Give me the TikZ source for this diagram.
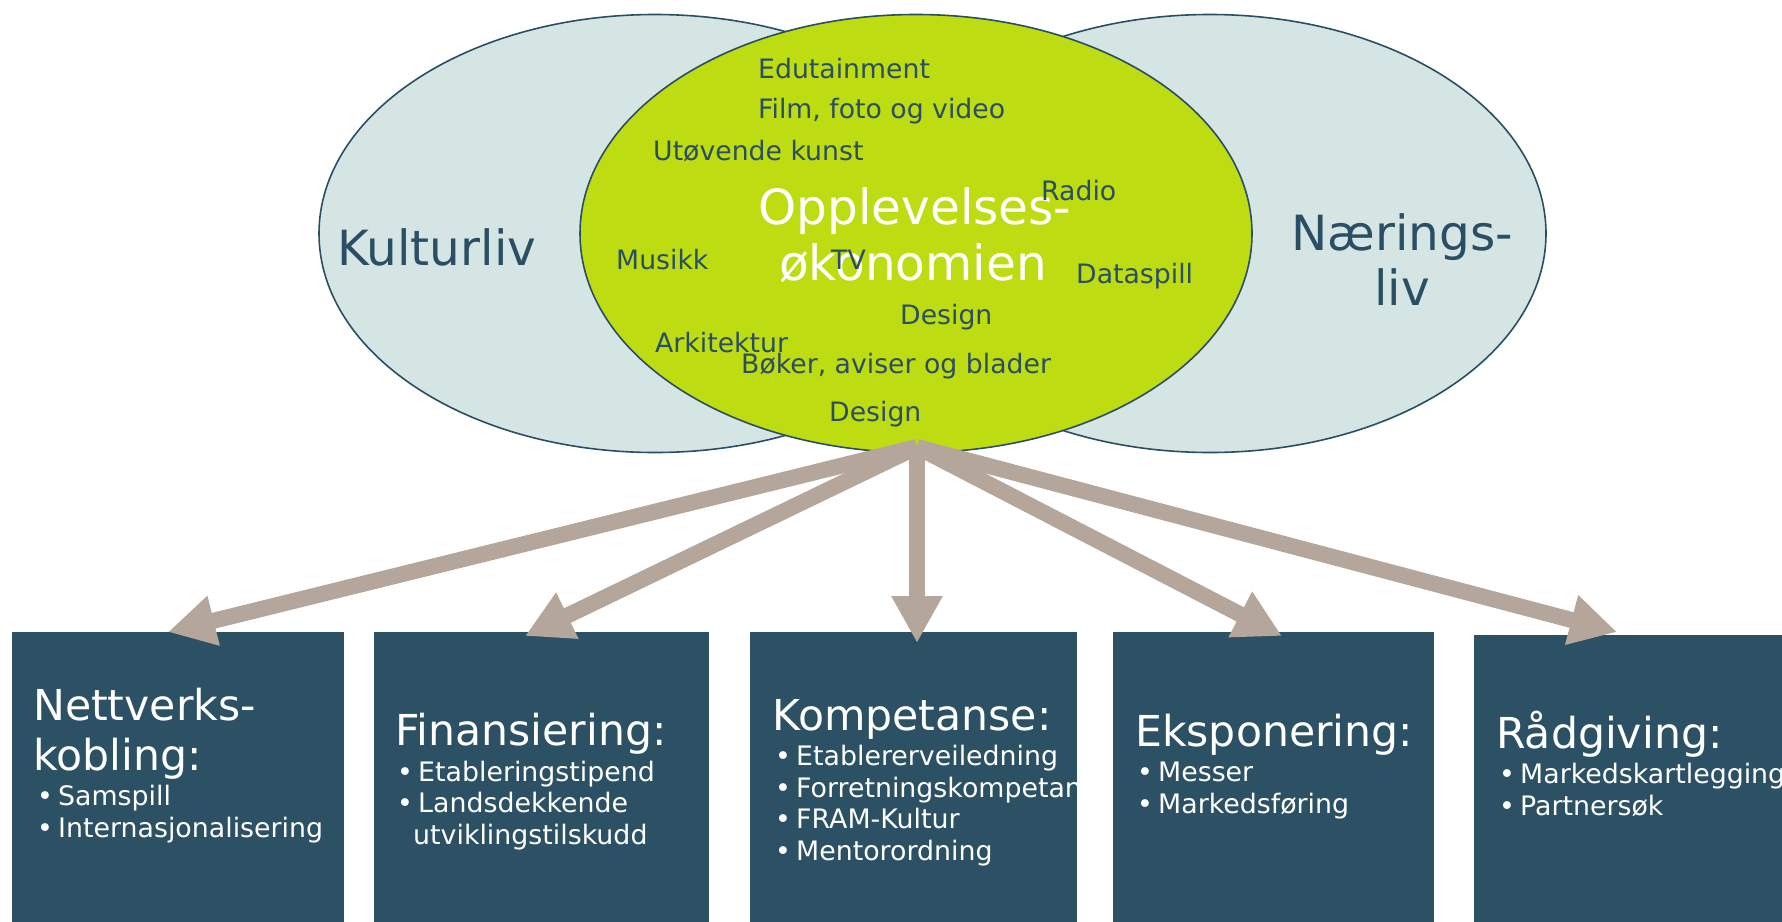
\documentclass[tikz,border=0pt]{standalone}
\usepackage{fontspec}
\setmainfont{DejaVu Sans}
\usetikzlibrary{shapes.geometric,arrows.meta}
\definecolor{boxblue}{HTML}{2C5165}
\definecolor{paleblue}{HTML}{D4E5E4}
\definecolor{lime}{HTML}{BEDC12}
\definecolor{tanarrow}{HTML}{B4A69A}
\definecolor{outl}{HTML}{2A4E63}
\newcommand{\bul}[1]{\makebox[21pt][l]{•}#1}
\begin{document}
\begin{tikzpicture}[x=1pt,y=-1pt,
  ell/.style={ellipse,draw=outl,line width=1.6pt,minimum width=672pt,minimum height=438pt,inner sep=0pt},
  lbl/.style={anchor=base west,inner sep=0pt,text=outl,font=\fontsize{26.7}{32}\selectfont},
  big/.style={anchor=base,inner sep=0pt,font=\fontsize{48.5}{55}\selectfont},
  box/.style={fill=boxblue,anchor=north west,inner sep=0pt,minimum height=300pt},
  ttl/.style={anchor=base west,inner sep=0pt,text=white,font=\fontsize{42.6}{48}\selectfont},
  itm/.style={anchor=base west,inner sep=0pt,text=white,font=\fontsize{26.8}{32}\selectfont},
  conn/.style={draw=tanarrow,line width=16pt,-{Triangle[length=47pt,width=48pt]}}
]
\useasboundingbox (0,0) rectangle (1782,921);
% ellipses
\node[ell,fill=paleblue] (kult) at (655,233.5) {};
\node[ell,fill=paleblue] (naer) at (1210,233.5) {};
\node[ell,fill=lime] (opp) at (916,233.5) {};
% ellipse texts
\node[big,anchor=base west,text=outl] (kulttxt) at (337,265) {Kulturliv};
\node[big,text=outl] (naer1) at (1402,250) {Nærings-};
\node[big,text=outl] (naer2) at (1402,305) {liv};
\node[big,text=white] (opp1) at (915,224) {Opplevelses-};
\node[big,text=white] (opp2) at (913,280) {økonomien};
\node[lbl] (l1) at (758,78) {Edutainment};
\node[lbl] (l2) at (758,118) {Film, foto og video};
\node[lbl] (l3) at (653,160) {Utøvende kunst};
\node[lbl] (l4) at (1041,200) {Radio};
\node[lbl] (l5) at (616,269) {Musikk};
\node[lbl] (l6) at (831,269) {TV};
\node[lbl] (l7) at (1076,283) {Dataspill};
\node[lbl] (l8) at (900,324) {Design};
\node[lbl] (l9) at (655,352) {Arkitektur};
\node[lbl] (l10) at (741,373) {Bøker, aviser og blader};
\node[lbl] (l11) at (829,421) {Design};
% boxes
\node[box,minimum width=332pt] (b1) at (12,632) {};
\node[box,minimum width=335pt] (b2) at (374,632) {};
\node[box,minimum width=327pt] (b3) at (750,632) {};
\node[box,minimum width=321pt] (b4) at (1113,632) {};
\node[box,minimum width=330pt] (b5) at (1474,635) {};
% box 1
\node[ttl] (t1a) at (33,720) {Nettverks-};
\node[ttl] (t1b) at (33,770) {kobling:};
\node[itm] (i1a) at (37,805) {\bul{Samspill}};
\node[itm] (i1b) at (37,837) {\bul{Internasjonalisering}};
% box 2
\node[ttl] (t2) at (395,745) {Finansiering:};
\node[itm] (i2a) at (397,781) {\bul{Etableringstipend}};
\node[itm] (i2b) at (397,812) {\bul{Landsdekkende}};
\node[itm] (i2c) at (413,844) {utviklingstilskudd};
% box 3
\begin{scope}
\clip (b3.north west) rectangle (b3.south east);
\node[ttl] (t3) at (772,730) {Kompetanse:};
\node[itm] (i3a) at (775,765) {\bul{Etablererveiledning}};
\node[itm] (i3b) at (775,797) {\bul{Forretningskompetanse}};
\node[itm] (i3c) at (775,828) {\bul{FRAM-Kultur}};
\node[itm] (i3d) at (775,860) {\bul{Mentorordning}};
\end{scope}
% box 4
\node[ttl] (t4) at (1135,746) {Eksponering:};
\node[itm] (i4a) at (1137,781) {\bul{Messer}};
\node[itm] (i4b) at (1137,813) {\bul{Markedsføring}};
% box 5
\node[ttl] (t5) at (1496,748) {Rådgiving:};
\node[itm] (i5a) at (1499,783) {\bul{Markedskartlegging}};
\node[itm] (i5b) at (1499,815) {\bul{Partnersøk}};
% arrows
\coordinate (src) at (917,447);
\coordinate (tip1) at (168,632);
\coordinate (tip2) at (525,636);
\coordinate (tip3) at (917,643);
\coordinate (tip4) at (1282,636);
\coordinate (tip5) at (1617,632);
\draw[conn] (src) -- (tip1);
\draw[conn] (src) -- (tip2);
\draw[conn] (src) -- (tip3);
\draw[conn] (src) -- (tip4);
\draw[conn] (src) -- (tip5);
\end{tikzpicture}
\end{document}
